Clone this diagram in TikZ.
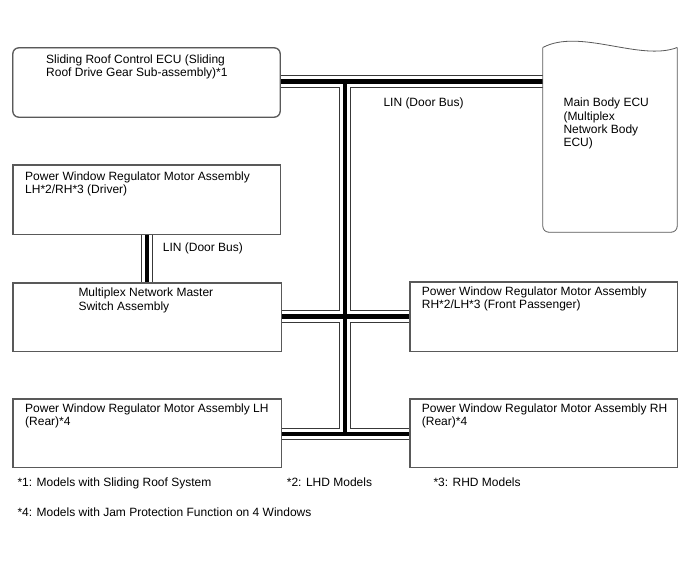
\documentclass[tikz,border=0pt]{standalone}
\usepackage{fontspec}
\setmainfont{Liberation Sans}
\newcommand\twol[2]{\parbox[t]{260pt}{#1\\#2}}
\newcommand\fourl[4]{\parbox[t]{120pt}{#1\\#2\\#3\\#4}}
\begin{document}
\begin{tikzpicture}[x=1pt,y=-1pt,
  boxline/.style={draw=black!65, line width=0.8pt},
  boxst/.style={boxline, rectangle, inner sep=0pt},
  txt/.style={anchor=base west, inner sep=0pt, font=\fontsize{12}{13.3}\selectfont},
  busout/.style={draw=black!78, line width=12.4pt},
  busin/.style={draw=white, line width=10.4pt},
  buscore/.style={draw=black, line width=4.5pt}]
\path[fill=white] (0,0) rectangle (688,560);
\useasboundingbox (0,0) rectangle (688,560);
% boxes
\node[boxst, rounded corners=6pt, minimum width=267pt, minimum height=69pt] (roof) at (146.5,82.5) {};
\node[boxst, minimum width=267pt, minimum height=69pt] (driver) at (146.5,199.5) {};
\node[boxst, minimum width=268pt, minimum height=68pt] (master) at (147,317) {};
\node[boxst, minimum width=267pt, minimum height=69pt] (pass) at (543.5,316.5) {};
\node[boxst, minimum width=268pt, minimum height=68pt] (rearL) at (147,433) {};
\node[boxst, minimum width=267pt, minimum height=68pt] (rearR) at (543.5,433) {};
\node[inner sep=0pt, minimum width=134pt, minimum height=184.3pt] (ecu) at (610,139.85) {};
% bus junctions
\coordinate (J1) at (345,81.5);
\coordinate (J2) at (345,316.5);
\coordinate (J3) at (345,434);
\coordinate (K) at (147,250);
\newcommand\buspaths[1]{%
  \draw[#1] (roof.east |- J1) -- (ecu.west |- J1);
  \draw[#1] (master.east |- J2) -- (pass.west |- J2);
  \draw[#1] (rearL.east |- J3) -- (rearR.west |- J3);
  \draw[#1] (J1) -- (J3);
  \draw[#1] (driver.south -| K) -- (master.north -| K);}
\buspaths{busout}
\buspaths{busin}
\buspaths{buscore}
% redraw box borders on top
\draw[boxline, rounded corners=6pt] (roof.north west) rectangle (roof.south east);
\foreach \b in {driver,master,pass,rearL,rearR}
  \draw[boxline] (\b.north west) rectangle (\b.south east);
% Main Body ECU shape
\draw[boxline] (ecu.north west) .. controls +(37,-19.7) and +(-37,14.3) .. (ecu.north east);
\draw[boxline, rounded corners=6pt] (ecu.north east) -- (ecu.south east) -- (ecu.south west) -- (ecu.north west);
% texts
\node[txt] (roofT) at (46,63.3) {\twol{Sliding Roof Control ECU (Sliding}{Roof Drive Gear Sub-assembly)*1}};
\node[txt] (ecuT) at (563.3,106.7) {\fourl{Main Body ECU}{(Multiplex}{Network Body}{ECU)}};
\node[txt] (linTop) at (383.3,106.7) {LIN (Door Bus)};
\node[txt] (driverT) at (25,180) {\twol{Power Window Regulator Motor Assembly}{LH*2/RH*3 (Driver)}};
\node[txt] (linDrv) at (162.7,251.5) {LIN (Door Bus)};
\node[txt] (masterT) at (78.3,296.7) {\twol{Multiplex Network Master}{Switch Assembly}};
\node[txt] (passT) at (421.7,295) {\twol{Power Window Regulator Motor Assembly}{RH*2/LH*3 (Front Passenger)}};
\node[txt] (rearLT) at (25,412.3) {\twol{Power Window Regulator Motor Assembly LH}{(Rear)*4}};
\node[txt] (rearRT) at (421.7,412.3) {\twol{Power Window Regulator Motor Assembly RH}{(Rear)*4}};
\node[txt] (fn1) at (17.3,486.7) {*1: Models with Sliding Roof System};
\node[txt] (fn2) at (286.7,486.7) {*2: LHD Models};
\node[txt] (fn3) at (433.3,486.7) {*3: RHD Models};
\node[txt] (fn4) at (17.3,516.7) {*4: Models with Jam Protection Function on 4 Windows};
\end{tikzpicture}
\end{document}
